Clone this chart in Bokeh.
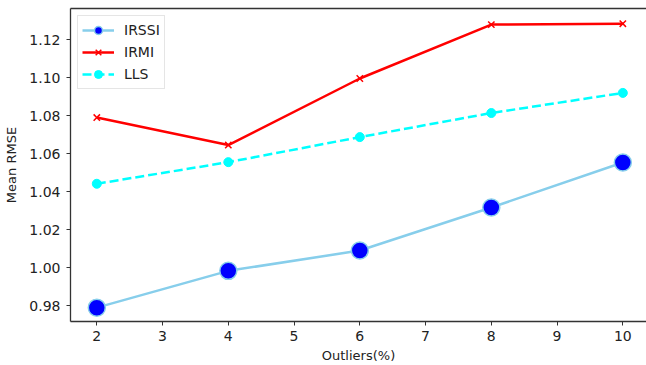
from bokeh.plotting import figure
from bokeh.models import Range1d, LinearAxis, FixedTicker, Legend, LegendItem, CustomJSTickFormatter
from bokeh.embed import file_html
from bokeh.resources import INLINE

outliers = [2, 4, 6, 8, 10]
irssi = [0.9789, 0.9983, 1.0090, 1.0317, 1.0554]
irmi = [1.0791, 1.0646, 1.0997, 1.1281, 1.1286]
lls = [1.0442, 1.0556, 1.0688, 1.0815, 1.0921]
x_ticks = [2, 3, 4, 5, 6, 7, 8, 9, 10]
y_ticks = [0.98, 1.00, 1.02, 1.04, 1.06, 1.08, 1.10, 1.12]

FONT = "DejaVu Sans"
AXC = "#333333"

p = figure(width=646, height=365, output_backend="svg", toolbar_location=None,
           x_range=Range1d(1.6, 10.36), y_range=Range1d(0.9716, 1.1366),
           min_border_left=70, min_border_right=0, min_border_top=8, min_border_bottom=43)
p.outline_line_color = None
p.xgrid.visible = False
p.ygrid.visible = False
p.background_fill_color = "white"

for ax in (p.xaxis[0], p.yaxis[0]):
    ax.axis_line_color = AXC
    ax.axis_line_width = 1.3
    ax.major_tick_line_color = AXC
    ax.major_tick_out = 4
    ax.major_tick_in = 0
    ax.minor_tick_line_color = None
    ax.major_label_text_font = FONT
    ax.major_label_text_font_size = "14px"
    ax.major_label_text_color = "#222222"
    ax.axis_label_text_font = FONT
    ax.axis_label_text_font_size = "13px"
    ax.axis_label_text_font_style = "normal"
    ax.axis_label_text_color = "#222222"

p.xaxis[0].major_label_standoff = 5
p.xaxis[0].axis_label_standoff = 4
p.yaxis[0].major_label_standoff = 6
p.yaxis[0].axis_label_standoff = 7

p.xaxis[0].ticker = FixedTicker(ticks=x_ticks)
p.yaxis[0].ticker = FixedTicker(ticks=y_ticks)
p.yaxis[0].formatter = CustomJSTickFormatter(code="return tick.toFixed(2);")
p.xaxis[0].axis_label = "Outliers(%)"
p.yaxis[0].axis_label = "Mean RMSE"

top = LinearAxis(ticker=FixedTicker(ticks=[]), major_label_text_font_size="0px",
                 axis_line_color=AXC, axis_line_width=1.3, minor_tick_line_color=None,
                 major_tick_line_color=None)
p.add_layout(top, "above")

l1 = p.line(outliers, irssi, line_color="skyblue", line_width=2.5)
c1 = p.scatter(outliers, irssi, marker="circle", size=17, fill_color="blue",
               line_color="skyblue", line_width=1.5)
l2 = p.line(outliers, irmi, line_color="red", line_width=2.5)
c2 = p.scatter(outliers, irmi, marker="x", size=9, line_color="red", line_width=1.5)
l3 = p.line(outliers, lls, line_color="cyan", line_width=2.5, line_dash="9 4")
c3 = p.scatter(outliers, lls, marker="circle", size=9, fill_color="cyan", line_color="cyan")

legend = Legend(items=[LegendItem(label="IRSSI", renderers=[l1, c1]),
                       LegendItem(label="IRMI", renderers=[l2, c2]),
                       LegendItem(label="LLS", renderers=[l3, c3])],
                location="top_left")
legend.label_text_font = FONT
legend.label_text_font_size = "14px"
legend.label_text_color = "#222222"
legend.border_line_color = "#cccccc"
legend.border_line_width = 1
legend.background_fill_alpha = 0.8
legend.glyph_width = 32
legend.glyph_height = 20
legend.spacing = 2
legend.padding = 4
legend.margin = 7
legend.label_standoff = 10
p.add_layout(legend)

open("out.html", "w").write(file_html(p, INLINE))
